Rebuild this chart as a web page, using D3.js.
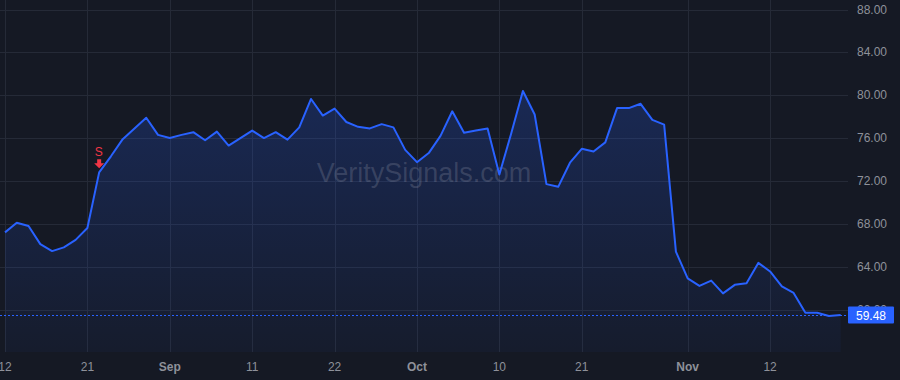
<!doctype html>
<html>
<head>
<meta charset="utf-8"/>
<title>VeritySignals chart</title>
<script src="https://cdn.jsdelivr.net/npm/d3@7/dist/d3.min.js"></script>
<style>
  body { margin:0; background:#151924; }
  svg text { font-family: "Liberation Sans", Arial, sans-serif; }
</style>
</head>
<body>
<script>
// trading days, Aug 12 - Nov 20 2025
var dates = [
  "2025-08-12","2025-08-13","2025-08-14","2025-08-15","2025-08-18","2025-08-19","2025-08-20","2025-08-21","2025-08-22",
  "2025-08-25","2025-08-26","2025-08-27","2025-08-28","2025-08-29",
  "2025-09-02","2025-09-03","2025-09-04","2025-09-05","2025-09-08","2025-09-09","2025-09-10","2025-09-11","2025-09-12",
  "2025-09-15","2025-09-16","2025-09-17","2025-09-18","2025-09-19","2025-09-22","2025-09-23","2025-09-24","2025-09-25",
  "2025-09-26","2025-09-29","2025-09-30",
  "2025-10-01","2025-10-02","2025-10-03","2025-10-06","2025-10-07","2025-10-08","2025-10-09","2025-10-10","2025-10-13",
  "2025-10-14","2025-10-15","2025-10-16","2025-10-17","2025-10-20","2025-10-21","2025-10-22","2025-10-23","2025-10-24",
  "2025-10-27","2025-10-28","2025-10-29","2025-10-30","2025-10-31",
  "2025-11-03","2025-11-04","2025-11-05","2025-11-06","2025-11-07","2025-11-10","2025-11-11","2025-11-12","2025-11-13",
  "2025-11-14","2025-11-17","2025-11-18","2025-11-19","2025-11-20"
];

var prices = [
  67.2, 68.1, 67.8, 66.1, 65.45, 65.8, 66.5, 67.6, 72.8,
  74.3, 75.9, 76.9, 77.9, 76.3,
  76.0, 76.3, 76.55, 75.8, 76.6, 75.3, 76.0, 76.7, 76.0,
  76.55, 75.85, 77.0, 79.65, 78.1, 78.75, 77.5, 77.05, 76.9,
  77.3, 77.0, 74.9,
  73.75, 74.6, 76.2, 78.5, 76.5, 76.7, 76.9, 72.6, 76.4,
  80.4, 78.2, 71.7, 71.45, 73.7, 75.0, 74.75, 75.6, 78.8,
  78.8, 79.2, 77.7, 77.25, 65.4,
  62.9, 62.2, 62.7, 61.5, 62.3, 62.45, 64.35, 63.55, 62.15,
  61.55, 59.7, 59.7, 59.4, 59.48
];

// x axis labels (date, text, is month)
var xTicks = [
  ["2025-08-12", "12", false],
  ["2025-08-21", "21", false],
  ["2025-09-02", "Sep", true],
  ["2025-09-11", "11", false],
  ["2025-09-22", "22", false],
  ["2025-10-01", "Oct", true],
  ["2025-10-10", "10", false],
  ["2025-10-21", "21", false],
  ["2025-11-03", "Nov", true],
  ["2025-11-12", "12", false]
];

var yTicks = [60, 64, 68, 72, 76, 80, 84, 88];

// sell signal
var signals = [ ["2025-08-22", "S"] ];

var lastPrice = 59.48;

var W = 900, H = 380;
var plotRight = 848, plotBottom = 352;

var svg = d3.select('body').append('svg').attr('width', W).attr('height', H);

svg.append('rect').attr('width', W).attr('height', H).attr('fill', '#151924');

var x = d3.scaleLinear().domain([0, dates.length - 1]).range([5, 840.7]);
var y = d3.scaleLinear().domain([60, 88]).range([309.5, 9.5]);

var grid = svg.append('g');

grid.selectAll('.hgrid')
  .data(yTicks)
  .enter().append('line')
   .attr('x1', 0).attr('x2', plotRight)
   .attr('y1', d => Math.round(y(d)) + 0.5)
   .attr('y2', d => Math.round(y(d)) + 0.5)
   .attr('stroke', '#252a37');

grid.selectAll('.vgrid')
  .data(xTicks)
  .enter().append('line')
   .attr('x1', d => Math.round(x(dates.indexOf(d[0]))) + 0.5)
   .attr('x2', d => Math.round(x(dates.indexOf(d[0]))) + 0.5)
   .attr('y1', 0).attr('y2', plotBottom)
   .attr('stroke', '#252a37');

// area gradient
var defs = svg.append('defs');
var grad = defs.append('linearGradient').attr('id', 'fillGrad')
  .attr('x1', 0).attr('y1', 0).attr('x2', 0).attr('y2', 1);
grad.append('stop').attr('offset', '0%').attr('stop-color', '#2962ff').attr('stop-opacity', 0.22);
grad.append('stop').attr('offset', '100%').attr('stop-color', '#2962ff').attr('stop-opacity', 0.04);

var area = d3.area()
  .x((d, i) => x(i))
  .y0(plotBottom)
  .y1(d => y(d));

svg.append('path')
  .datum(prices)
  .attr('d', area)
  .attr('fill', 'url(#fillGrad)');

// watermark
svg.append('text')
  .attr('x', 424).attr('y', 182)
  .attr('text-anchor', 'middle')
  .attr('font-size', 27)
  .attr('fill', 'rgba(150,155,172,0.26)')
  .text('VeritySignals.com');

var line = d3.line()
  .x((d, i) => x(i))
  .y(d => y(d));

svg.append('path')
  .datum(prices)
  .attr('d', line)
  .attr('fill', 'none')
  .attr('stroke', '#2962ff')
  .attr('stroke-width', 2)
  .attr('stroke-linejoin', 'round');

// last price dotted line
svg.append('line')
  .attr('x1', 0).attr('x2', plotRight)
  .attr('y1', Math.round(y(lastPrice)) + 0.5)
  .attr('y2', Math.round(y(lastPrice)) + 0.5)
  .attr('stroke', '#2962ff')
  .attr('stroke-width', 1)
  .attr('stroke-dasharray', '2,2');

// signal markers
signals.forEach(s => {
  let i = dates.indexOf(s[0]);
  let px = x(i), py = y(prices[i]);
  svg.append('text')
    .attr('x', px - 0.5).attr('y', py - 16)
    .attr('text-anchor', 'middle')
    .attr('font-size', 12)
    .attr('fill', '#f23645')
    .text(s[1]);
  svg.append('path')
    .attr('d', `M${px-2},${py-13} h4 v4 h3 l-5,5 l-5,-5 h3 z`)
    .attr('fill', '#f23645');
});

// right axis labels
svg.selectAll('.ylab')
  .data(yTicks)
  .enter().append('text')
   .attr('x', 857)
   .attr('y', d => y(d) + 4)
   .attr('font-size', 12)
   .attr('fill', '#8e919a')
   .text(d => d.toFixed(2));

// bottom axis labels
svg.selectAll('.xlab')
  .data(xTicks)
  .enter().append('text')
   .attr('x', d => x(dates.indexOf(d[0])))
   .attr('y', 371)
   .attr('text-anchor', 'middle')
   .attr('font-size', 12)
   .attr('font-weight', d => d[2] ? 'bold' : 'normal')
   .attr('fill', '#8e919a')
   .text(d => d[1]);

// last price label
var ly = y(lastPrice);
svg.append('rect')
  .attr('x', 848).attr('y', ly - 8.5)
  .attr('width', 46).attr('height', 17)
  .attr('rx', 1)
  .attr('fill', '#2962ff');
svg.append('text')
  .attr('x', 871).attr('y', ly + 4.5)
  .attr('text-anchor', 'middle')
  .attr('font-size', 12)
  .attr('fill', '#ffffff')
  .text(lastPrice.toFixed(2));
</script>
</body>
</html>
